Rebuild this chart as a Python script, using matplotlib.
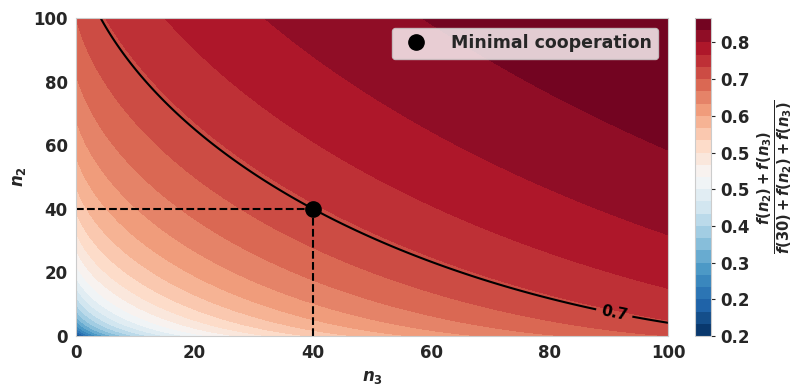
import matplotlib
matplotlib.use('Agg')
import matplotlib.pyplot as plt
import numpy as np

# grid of group sizes
n2 = np.linspace(0, 100, 401)
n3 = np.linspace(0, 100, 401)

# benefit function f(n) = (n + a)**p + c, reference group size 30
f_shift = 0.621
f_exp = 0.6
f_off = 0.0728
n_ref = 30

# minimal cooperation point
coop_n3 = 40
coop_n2 = 40

xticks = [0, 20, 40, 60, 80, 100]
yticks = [0, 20, 40, 60, 80, 100]


def f(n):
    return (n + f_shift) ** f_exp + f_off


def share(a, b):
    return (f(a) + f(b)) / (f(n_ref) + f(a) + f(b))


plt.rcParams.update({
    'font.family': 'DejaVu Sans',
    'font.weight': 'bold',
    'axes.labelweight': 'bold',
    'text.color': '.15',
    'axes.labelcolor': '.15',
    'xtick.color': '.15',
    'ytick.color': '.15',
    'mathtext.fontset': 'custom',
    'mathtext.it': 'DejaVu Sans:italic:bold',
    'mathtext.rm': 'DejaVu Sans:bold',
    'mathtext.bf': 'DejaVu Sans:bold',
})

N3, N2 = np.meshgrid(n3, n2)
Z = share(N2, N3)
levels = np.linspace(Z.min(), Z.max(), 27)
z_coop = share(coop_n2, coop_n3)

fig = plt.figure(figsize=(7.95, 3.85), dpi=100)
ax = fig.add_axes([0.0956, 0.1273, 0.7447, 0.8260])
cax = fig.add_axes([0.8742, 0.1273, 0.0201, 0.8260])

cs = ax.contourf(N3, N2, Z, levels=levels, cmap='RdBu_r')
cl = ax.contour(N3, N2, Z, levels=[z_coop], colors='k', linewidths=1.5)
lbls = ax.clabel(cl, fmt='%.1f', manual=[(91, 8)], fontsize=11)
for t in lbls:
    t.set_fontweight('bold')
    t.set_color('k')

ax.plot([0, coop_n3], [coop_n2, coop_n2], 'k--', lw=1.5)
ax.plot([coop_n3, coop_n3], [0, coop_n2], 'k--', lw=1.5)
ax.plot(coop_n3, coop_n2, 'o', color='k', ms=11, label='Minimal cooperation', zorder=5)

ax.set_xlim(0, 100)
ax.set_ylim(0, 100)
ax.set_xticks(xticks)
ax.set_yticks(yticks)
ax.tick_params(labelsize=12, length=0, pad=6)
ax.set_xlabel(r'$n_3$', fontsize=12)
ax.set_ylabel(r'$n_2$', fontsize=12)
for s in ax.spines.values():
    s.set_color('#cccccc')

leg = ax.legend(loc='upper right', fontsize=12.5, frameon=True, facecolor='white',
                framealpha=0.8, edgecolor='#cccccc', borderaxespad=0.55,
                handletextpad=1.0)
for t in leg.get_texts():
    t.set_fontweight('bold')

cbar = fig.colorbar(cs, cax=cax, ticks=levels[::3], format='%.1f')
cbar.outline.set_edgecolor('#cccccc')
cbar.ax.tick_params(labelsize=12, length=3, color='.15')
cbar.set_label(r'$\frac{f(n_2)+f(n_3)}{f(30)+f(n_2)+f(n_3)}$', fontsize=15, labelpad=4)

fig.savefig('out.png', dpi=100)
